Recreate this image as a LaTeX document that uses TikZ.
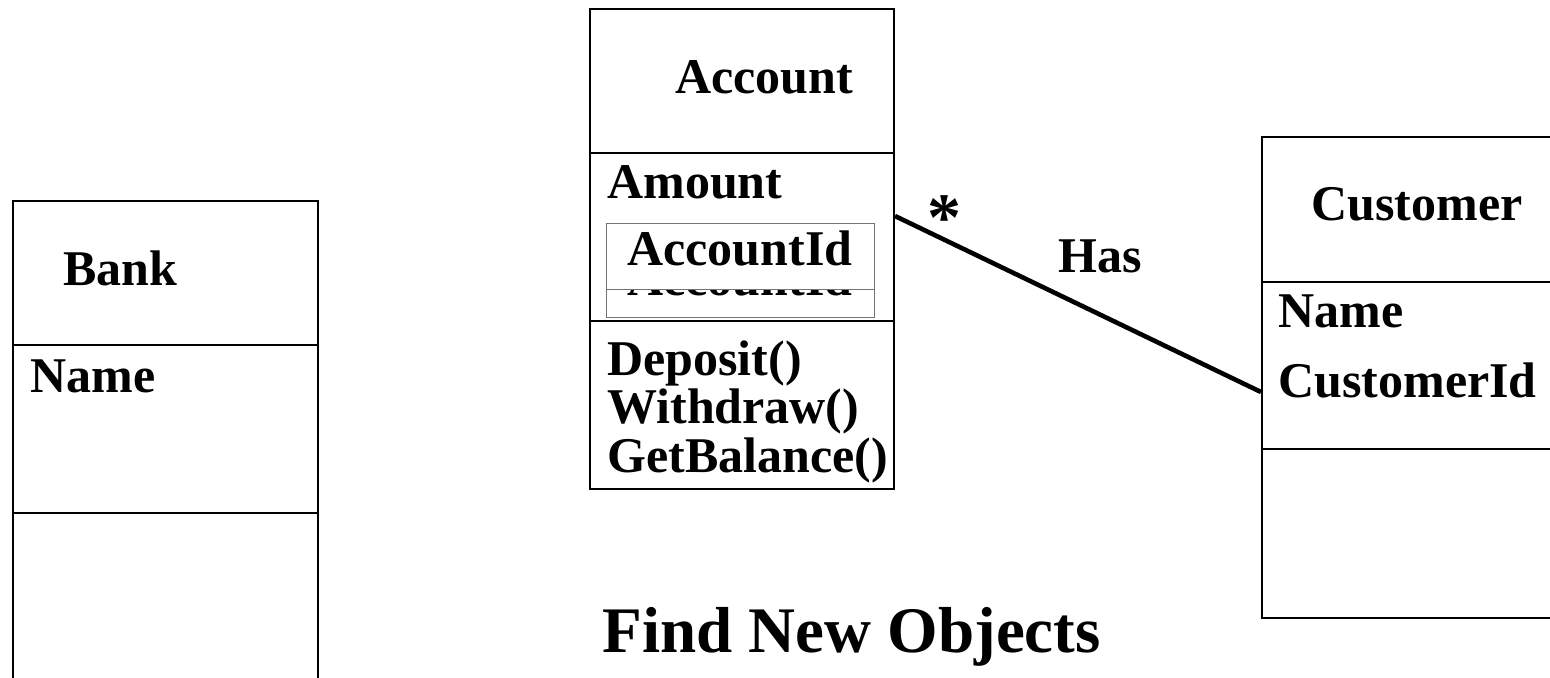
\documentclass[tikz,border=0pt]{standalone}
\usepackage{fontspec}
\setmainfont{Liberation Serif}
\begin{document}
\begin{tikzpicture}[x=0.5pt,y=-0.5pt,
  part/.style={draw, line width=1pt, inner sep=0pt, anchor=north west},
  inner/.style={draw=black!55, line width=0.5pt, fill=white, inner sep=0pt, anchor=north west,
    minimum width=134pt, minimum height=33pt},
  lbl/.style={inner sep=0pt, anchor=base west, font=\bfseries\fontsize{25}{24}\selectfont},
  title/.style={inner sep=0pt, anchor=base west, font=\bfseries\fontsize{32.5}{34}\selectfont},
  assoc/.style={line width=2.3pt}]
\clip (0,0) rectangle (1550,677);
\fill[white] (0,0) rectangle (1550,677);

% Bank class
\node[part, minimum width=152.5pt, minimum height=72pt] (banktitle) at (12,200) {};
\node[part, minimum width=152.5pt, minimum height=84pt] (bankattr) at (12,344) {};
\node[part, minimum width=152.5pt, minimum height=94pt] (bankops) at (12,512) {};
\node[lbl] (bankname) at (63,285) {Bank};
\node[lbl] (bankattr1) at (30,392) {Name};

% Account class
\node[part, minimum width=152pt, minimum height=72pt] (acctitle) at (589,8) {};
\node[part, minimum width=152pt, minimum height=84pt] (accattr) at (589,152) {};
\node[part, minimum width=152pt, minimum height=84pt] (accops) at (589,320) {};
\node[lbl] (accname) at (675,93) {Account};
\node[lbl] (accattr1) at (607,198) {Amount};
% two stacked AccountId fields, the upper one covering the lower
\node[inner] (accidB) at (606,251) {};
\node[lbl] (accidBtext) at (627,295) {AccountId};
\node[inner] (accidA) at (606,223) {};
\node[lbl] (accidAtext) at (627,265) {AccountId};
\node[lbl] (accop1) at (607,375) {Deposit()};
\node[lbl] (accop2) at (607,423) {Withdraw()};
\node[lbl] (accop3) at (607,472) {GetBalance()};

% Customer class
\node[part, minimum width=160pt, minimum height=72.5pt] (custtitle) at (1261,136) {};
\node[part, minimum width=160pt, minimum height=83.5pt] (custattr) at (1261,281) {};
\node[part, minimum width=160pt, minimum height=84.5pt] (custops) at (1261,448) {};
\node[lbl] (custname) at (1311,220) {Customer};
\node[lbl] (custattr1) at (1278,327) {Name};
\node[lbl] (custattr2) at (1278,397) {CustomerId};

% association Account * -- Has -- Customer
\coordinate (endA) at ([yshift=-32pt]accattr.north east);
\coordinate (endC) at ([yshift=-55.5pt]custattr.north west);
\draw[assoc] (endA) -- (endC);
\node[inner sep=0pt, anchor=base west, font=\bfseries\fontsize{34}{34}\selectfont] (mult) at (927,240) {*};
\node[lbl] (hasname) at (1058,272) {Has};

% caption
\node[title] (caption) at (602,652) {Find New Objects};
\end{tikzpicture}
\end{document}
